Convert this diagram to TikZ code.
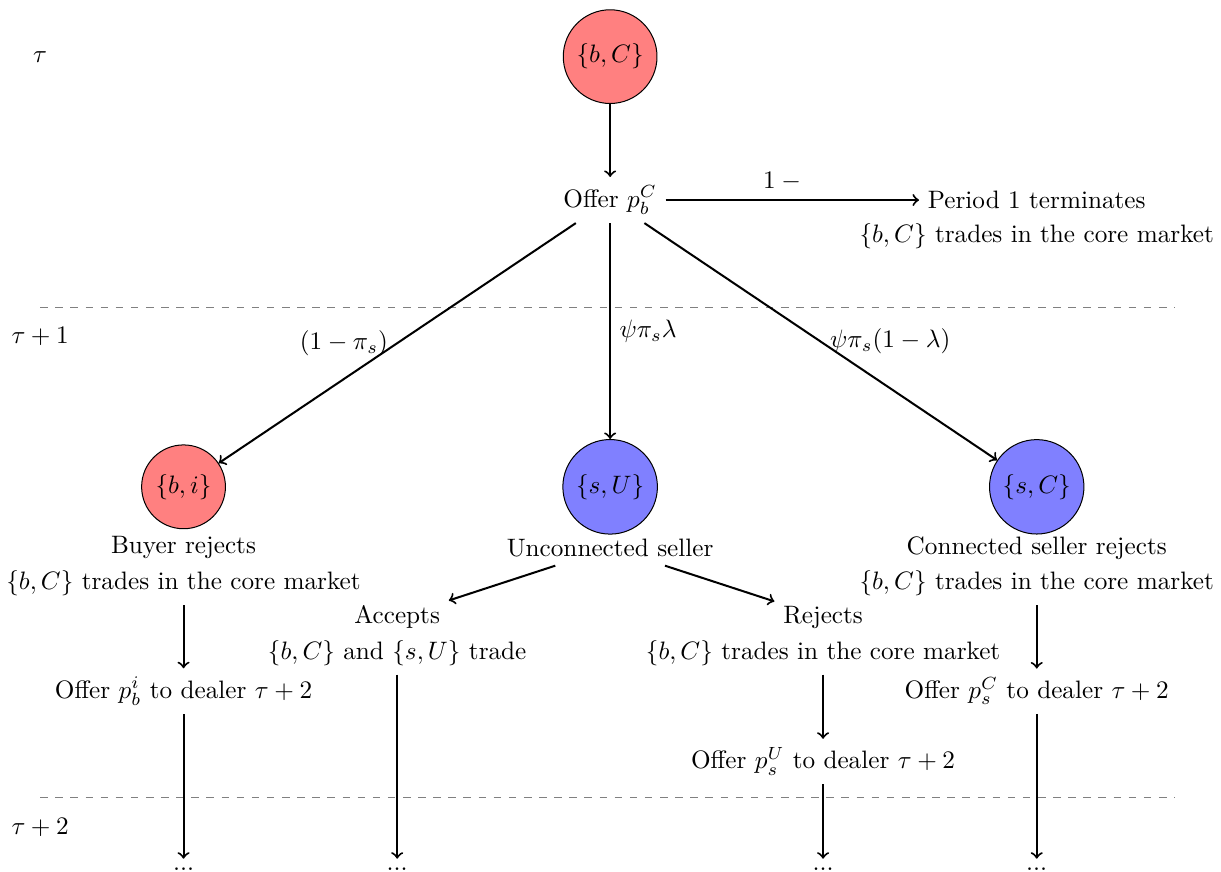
\documentclass[tikz,border=0pt]{standalone}
\usepackage{tikz}
\usepackage{color}

\begin{document}
\begin{tikzpicture}[buyer/.style={circle, draw, fill=red!50},
                    seller/.style={circle, draw, fill=blue!50},
                    arr/.style={->, thick}]
  \useasboundingbox (-8.51 , 0.79) rectangle (8.52 , -11.37);
  % periods
  \node (tau0) at (-7.95 , 0) {$\tau$};
  \node (tau1) at (-7.95 , -3.9) {$\tau+1$};
  \node (tau2) at (-7.95 , -10.75) {$\tau+2$};
  \draw [dashed, gray] (-7.95 , -3.5) -- (7.88 , -3.5)
                       (-7.95 , -10.33) -- (7.88 , -10.33);
  % period tau
  \node [buyer] (bC) at (0 , 0) {$\{b,C\}$};
  \node (offer) at (0 , -2) {Offer $p_b^C$};
  \node (term) at (5.95 , -2) {Period 1 terminates};
  \node (termcore) at (5.95 , -2.5) {$\{b,C\}$ trades in the core market};
  % period tau+1
  \node [buyer] (bi) at (-5.95 , -6) {$\{b,i\}$};
  \node [seller] (sU) at (0 , -6) {$\{s,U\}$};
  \node [seller] (sC) at (5.95 , -6) {$\{s,C\}$};
  \node (buyrej) at (-5.95 , -6.85) {Buyer rejects};
  \node (buycore) at (-5.95 , -7.35) {$\{b,C\}$ trades in the core market};
  \node (unconn) at (0 , -6.85) {Unconnected seller};
  \node (connrej) at (5.95 , -6.85) {Connected seller rejects};
  \node (conncore) at (5.95 , -7.35) {$\{b,C\}$ trades in the core market};
  \node (accepts) at (-2.97 , -7.82) {Accepts};
  \node (acctrade) at (-2.97 , -8.32) {$\{b,C\}$ and $\{s,U\}$ trade};
  \node (rejects) at (2.97 , -7.82) {Rejects};
  \node (rejcore) at (2.97 , -8.32) {$\{b,C\}$ trades in the core market};
  \node (offbi) at (-5.95 , -8.85) {Offer $p_b^i$ to dealer $\tau+2$};
  \node (offsC) at (5.95 , -8.85) {Offer $p_s^C$ to dealer $\tau+2$};
  \node (offsU) at (2.97 , -9.83) {Offer $p_s^U$ to dealer $\tau+2$};
  % period tau+2
  \node (dots1) at (-5.95 , -11.33) {...};
  \node (dots2) at (-2.97 , -11.33) {...};
  \node (dots3) at (2.97 , -11.33) {...};
  \node (dots4) at (5.95 , -11.33) {...};
  % arrows
  \draw [arr] (bC) -- (offer);
  \draw [arr] (offer) -- node[pos=0.47, above] {$1-{}$} (term);
  \draw [arr] (offer) -- node[midway, left] {$(1-\pi_s)$} (bi);
  \draw [arr] (offer) -- node[midway, right] {$\psi\pi_s\lambda$} (sU);
  \draw [arr] (offer) -- node[midway, right] {$\psi\pi_s(1-\lambda)$} (sC);
  \draw [arr] (unconn) -- (accepts);
  \draw [arr] (unconn) -- (rejects);
  \draw [arr] (buycore) -- (offbi);
  \draw [arr] (conncore) -- (offsC);
  \draw [arr] (rejcore) -- (offsU);
  \draw [arr] (offbi) -- (dots1);
  \draw [arr] (acctrade) -- (dots2);
  \draw [arr] (offsU) -- (dots3);
  \draw [arr] (offsC) -- (dots4);
\end{tikzpicture}
\end{document}
